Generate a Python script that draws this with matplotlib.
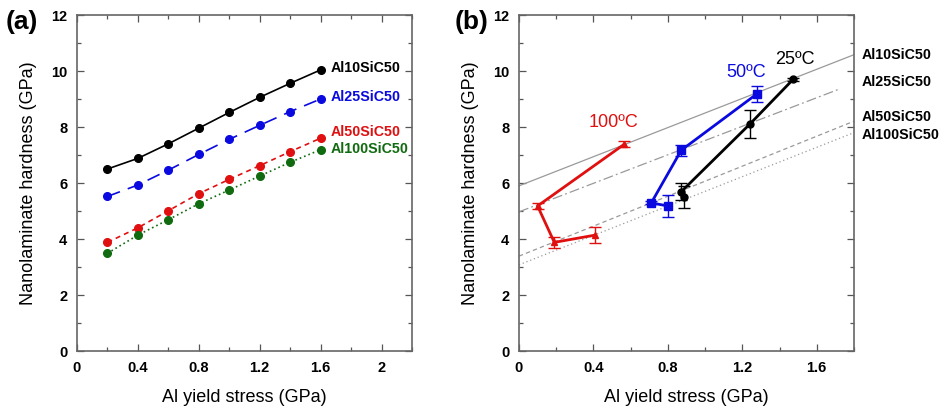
import numpy as np
import matplotlib
matplotlib.use('Agg')
import matplotlib.pyplot as plt
from matplotlib.ticker import MultipleLocator

plt.rcParams['font.family'] = ['Liberation Sans', 'DejaVu Sans']

# panel (a): hardness vs Al yield stress for each laminate
stress = [0.2, 0.4, 0.6, 0.8, 1.0, 1.2, 1.4, 1.6]
al10 = [6.50, 6.88, 7.40, 7.96, 8.52, 9.06, 9.56, 10.04]
al25 = [5.52, 5.93, 6.46, 7.02, 7.56, 8.06, 8.55, 9.00]
al50 = [3.88, 4.40, 5.01, 5.62, 6.13, 6.62, 7.12, 7.60]
al100 = [3.49, 4.14, 4.69, 5.26, 5.75, 6.25, 6.74, 7.19]
names = ['Al10SiC50', 'Al25SiC50', 'Al50SiC50', 'Al100SiC50']

# panel (b): measured points at three temperatures
x100 = [0.567, 0.10, 0.19, 0.41]
h100 = [7.39, 5.18, 3.88, 4.14]
e100 = [0.1, 0.1, 0.2, 0.3]
x50 = [1.278, 0.872, 0.711, 0.80]
h50 = [9.18, 7.17, 5.29, 5.18]
e50 = [0.3, 0.2, 0.05, 0.4]
x25 = [1.473, 1.24, 0.872, 0.888]
h25 = [9.70, 8.10, 5.69, 5.49]
e25 = [0.05, 0.5, 0.3, 0.4]

colors = ['black', '#0a0ae0', '#e01010', '#106b10']
styles = ['-', (0, (8, 5)), (0, (3, 2.5)), (0, (1, 1.8))]

fig = plt.figure(figsize=(9.41, 4.08), dpi=100)
ax1 = fig.add_axes([0.0818, 0.1397, 0.356, 0.8235])
ax2 = fig.add_axes([0.5515, 0.1397, 0.356, 0.8235])


def style_axes(ax, xmax):
    ax.set_xlim(0, xmax)
    ax.set_ylim(0, 12)
    ax.xaxis.set_major_locator(MultipleLocator(0.4))
    ax.xaxis.set_minor_locator(MultipleLocator(0.2))
    ax.yaxis.set_major_locator(MultipleLocator(2))
    ax.yaxis.set_minor_locator(MultipleLocator(1))
    ax.xaxis.set_major_formatter(plt.FuncFormatter(lambda v, p: '%g' % round(v, 1)))
    ax.tick_params(which='both', direction='in', top=True, right=True,
                   color='#555555', width=0.9)
    ax.tick_params(which='major', length=5, labelsize=10.5, pad=7)
    ax.tick_params(which='minor', length=3)
    for sp in ax.spines.values():
        sp.set_color('#666666')
        sp.set_linewidth(1.2)
    ax.set_xlabel('Al yield stress (GPa)', fontsize=13, labelpad=10)
    ax.set_ylabel('Nanolaminate hardness (GPa)', fontsize=13, labelpad=10)
    for lab in ax.get_xticklabels() + ax.get_yticklabels():
        lab.set_fontweight('bold')


series = [al10, al25, al50, al100]
label_y = [10.12, 9.08, 7.82, 7.21]
for vals, c, ls, nm, ly in zip(series, colors, styles, names, label_y):
    ax1.plot(stress, vals, color=c, linestyle=ls, lw=1.2, marker='o', ms=5.5)
    ax1.text(1.665, ly, nm, color=c, fontsize=10.3, fontweight='bold',
             va='center', ha='left')
style_axes(ax1, 2.2)

# fitted lines from panel (a), extended over panel (b)
ref_styles = ['-', (0, (8, 2.5, 1.5, 2.5)), (0, (3.5, 2.5)), (0, (1, 2.2))]
ref_end = [1.8, 1.74, 1.8, 1.8]
ref_label_y = [10.57, 9.6, 8.37, 7.71]
xr_all = np.linspace(0, 1.8, 50)
for vals, ls, xe, nm, ly in zip(series, ref_styles, ref_end, names, ref_label_y):
    k, b = np.polyfit(stress, vals, 1)
    xr = xr_all[xr_all <= xe + 1e-9]
    ax2.plot(xr, k * xr + b, color='#9a9a9a', linestyle=ls, lw=0.9)
    ax2.text(1.84, ly, nm, color='black', fontsize=10.3, fontweight='bold',
             va='center', ha='left', clip_on=False)

ax2.errorbar(x100, h100, yerr=e100, color='#e01010', marker='^', ms=5,
             lw=2, elinewidth=1, capsize=4, capthick=1)
ax2.errorbar(x50, h50, yerr=e50, color='#0a0ae0', marker='s', ms=6,
             lw=2, elinewidth=1, capsize=4, capthick=1)
ax2.errorbar(x25, h25, yerr=e25, color='black', marker='o', ms=5,
             lw=2, elinewidth=1, capsize=4, capthick=1)
ax2.text(0.51, 8.15, '100ºC', color='#e01010', fontsize=13, ha='center', va='center')
ax2.text(1.22, 9.94, '50ºC', color='#0a0ae0', fontsize=13, ha='center', va='center')
ax2.text(1.48, 10.4, '25ºC', color='black', fontsize=13, ha='center', va='center')
style_axes(ax2, 1.8)

fig.text(0.006, 0.93, '(a)', fontsize=19, fontweight='bold')
fig.text(0.483, 0.93, '(b)', fontsize=19, fontweight='bold')

fig.savefig('out.png', dpi=100)
